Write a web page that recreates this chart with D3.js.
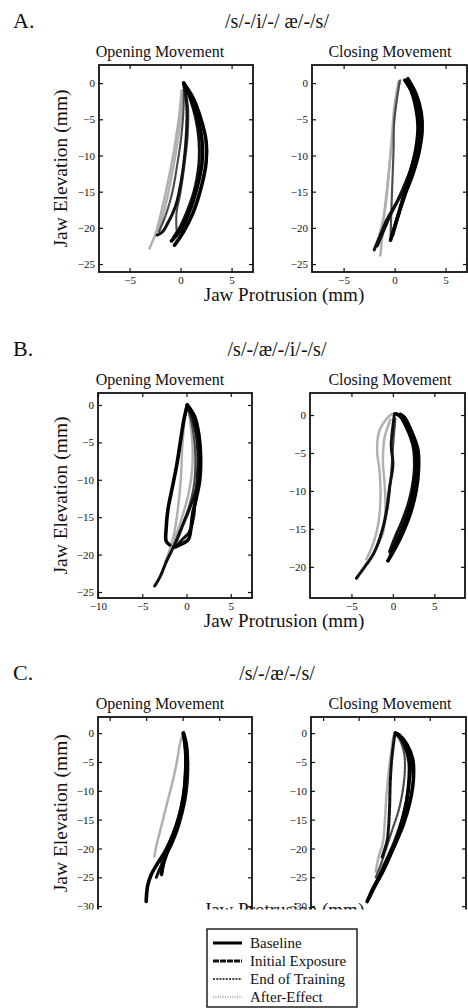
<!DOCTYPE html>
<html>
<head>
<meta charset="utf-8">
<script src="https://cdn.jsdelivr.net/npm/d3@7"></script>
<style>
  html, body { margin: 0; padding: 0; background: #fff; }
  svg { display: block; }
  text { font-family: "Liberation Serif", "Times New Roman", serif; fill: #111; }
</style>
</head>
<body>
<svg id="fig" width="468" height="1008"></svg>
<script>
// ---- text ----
const panelLetters = ['A.', 'B.', 'C.'];
const panelTitles = ['/s/-/i/-/ æ/-/s/', '/s/-/æ/-/i/-/s/', '/s/-/æ/-/s/'];
const subTitles = ['Opening Movement', 'Closing Movement'];
const conditions = ['Baseline', 'Initial Exposure', 'End of Training', 'After-Effect'];
const xLabel = 'Jaw Protrusion (mm)';
const yLabel = 'Jaw Elevation (mm)';

// ---- axis limits and ticks [row][opening/closing] ----
const xLimits = [[[-8.0, 7.1], [-8.1, 7.1]], [[-10, 7.4], [-10, 8.7]], [[-11.6, 9.5], [-11.7, 10.1]]];
const yLimits = [[[-26.1, 2.5], [-26.1, 2.5]], [[-25.8, 1.6], [-24.1, 2.9]], [[-35, 2.8], [-35, 2.8]]];
const xTickVals = [[[-5, 0, 5], [-5, 0, 5]], [[-10, -5, 0, 5], [-5, 0, 5]], [[-10, -5, 0, 5], [-10, -5, 0, 5]]];
const yTickVals = [
  [[0, -5, -10, -15, -20, -25], [0, -5, -10, -15, -20, -25]],
  [[0, -5, -10, -15, -20, -25], [0, -5, -10, -15, -20]],
  [[0, -5, -10, -15, -20, -25, -30], [0, -5, -10, -15, -20, -25, -30]]
];

// ---- trajectories (x = protrusion mm, y = elevation mm) ----
// A: /s/-/i/-/ae/-/s/
const openA_base = [
  [[0.3, 0], [1.2, -2], [2.0, -5], [2.5, -8], [2.5, -11], [2.0, -14.5], [1.2, -18], [0.3, -20.5], [-0.6, -22.4]],
  [[0.3, 0], [1.0, -2], [1.7, -5], [2.1, -8], [2.1, -11], [1.6, -14.5], [0.8, -18], [0, -20.3], [-0.9, -21.8]]
];
const openA_init = [
  [[0.3, 0], [0.9, -2], [1.5, -5], [1.8, -8], [1.8, -11], [1.4, -14.5], [0.7, -17.5], [-0.1, -20], [-0.7, -21.3]],
  [[0.3, 0], [0.6, -3], [0.6, -6], [0.4, -10], [0, -14], [-0.5, -17], [-1.2, -19.2], [-1.8, -20.6], [-2.3, -21]]
];
const openA_end = [
  [[0.3, 0], [0.7, -3], [0.7, -7], [0.4, -11], [0, -15], [-0.4, -18], [-0.4, -20.3]],
  [[0.3, 0], [0.3, -3], [0.1, -7], [-0.3, -11], [-0.8, -15], [-1.4, -18], [-2.1, -20.5]]
];
const openA_after = [
  [[0.1, -1], [-0.1, -4], [-0.5, -8], [-1.0, -12], [-1.6, -16], [-2.1, -19], [-2.5, -21], [-3.1, -23]],
  [[0.2, -1.5], [0, -5], [-0.4, -9], [-0.9, -13], [-1.5, -17], [-2.2, -20.5]]
];
const closeA_base = [
  [[-0.4, -21.7], [0.3, -18.5], [1.0, -15.5], [1.8, -12.5], [2.4, -9.5], [2.7, -6.5], [2.6, -4], [2.1, -1.5], [1.3, 0.6]],
  [[-0.2, -21], [0.4, -18], [1.0, -15], [1.6, -12], [2.1, -9], [2.3, -6], [2.1, -3.5], [1.6, -1], [1.0, 0.4]]
];
const closeA_init = [
  [[-2.0, -23], [-1.4, -21], [-0.8, -19], [0, -17], [0.8, -15], [1.6, -12], [2.2, -9], [2.4, -6], [2.2, -3], [1.6, -0.5], [1.2, 0.4]],
  [[-1.7, -22.5], [-1.1, -20.5], [-0.5, -18.5], [0.2, -16.5], [1, -14], [1.8, -11], [2.3, -8], [2.5, -5], [2.0, -2], [1.4, 0.2]]
];
const closeA_end = [
  [[-0.4, -21.5], [-0.3, -17], [-0.2, -13], [-0.1, -9], [-0.05, -5.5], [0.2, -2.5], [0.5, 0.3]]
];
const closeA_after = [
  [[-1.4, -23.8], [-1.2, -21], [-1.0, -18], [-0.7, -14], [-0.4, -10], [-0.1, -6], [0.2, -2], [0.6, 0.5]],
  [[-2.0, -23.2], [-1.4, -20.5], [-0.9, -17], [-0.6, -13], [-0.3, -8], [0, -3], [0.4, 0.3]]
];

// B: /s/-/ae/-/i/-/s/
const openB_base = [
  [[0.1, 0], [-0.3, -2], [-0.7, -5], [-1.1, -8], [-1.6, -11], [-2.1, -14], [-2.3, -16.5], [-2.3, -18.2], [-1.9, -18.7]],
  [[0.1, 0], [0.9, -1.5], [1.4, -4], [1.6, -7], [1.5, -10], [1.1, -12.5], [0.7, -14.5], [0.5, -16.5], [0.2, -18], [-0.6, -18.6], [-1.4, -19]]
];
const openB_init = [
  [[0.1, 0], [0.8, -1.5], [1.3, -4], [1.5, -7], [1.3, -10], [0.9, -12], [0.3, -14], [-0.4, -16], [-1.0, -17.8], [-1.6, -19.3], [-2.3, -21], [-3.0, -23], [-3.6, -24.2]],
  [[0.1, 0], [0.6, -1.5], [1.1, -4], [1.3, -7], [1.2, -10], [1.0, -12.5], [0.8, -15], [0.3, -17], [-0.5, -18], [-1.2, -19]]
];
const openB_end = [
  [[0, 0], [0.5, -2], [0.9, -5], [1.0, -8], [0.8, -11], [0.3, -13.5], [-0.3, -15.5], [-0.9, -17.2], [-1.5, -19], [-2.1, -20.5]]
];
const openB_after = [
  [[-0.1, -0.5], [-0.3, -3], [-0.5, -6], [-0.6, -9], [-0.8, -12], [-1.1, -15], [-1.4, -17.2], [-1.8, -19], [-2.4, -21]],
  [[0.2, -0.3], [0.5, -3], [0.7, -6], [0.6, -9], [0.2, -12], [-0.5, -15], [-1.2, -17.5], [-1.8, -19.5]]
];
const closeB_base = [
  [[-0.6, -19.2], [0.3, -17.5], [1.2, -15.5], [2.1, -13], [2.8, -10], [3.1, -7], [3.0, -4.5], [2.3, -2.3], [1.4, -0.3], [0.9, 0.1]],
  [[-0.3, -18.5], [0.5, -16.5], [1.3, -14.5], [2.1, -12], [2.6, -9], [2.8, -6.5], [2.6, -4], [1.8, -1.8], [1.0, -0.3], [0.5, 0.1]]
];
const closeB_init = [
  [[-4.4, -21.5], [-3.4, -20], [-2.3, -18.2], [-1.4, -15.6], [-0.8, -12.8], [-0.4, -9.5], [0, -6.5], [-0.2, -4], [0, -1.5], [0.2, 0.2]],
  [[-0.4, -18], [0.3, -16], [1.1, -14], [1.9, -11.5], [2.4, -9], [2.6, -6.5], [2.4, -4], [1.6, -1.6], [0.9, -0.2], [0.4, 0.2]]
];
const closeB_end = [
  [[-3.0, -19.5], [-2.0, -17.5], [-1.2, -15], [-0.6, -12], [-0.3, -9], [-0.1, -6], [0.1, -3], [0.3, -0.5]]
];
const closeB_after = [
  [[-3.2, -19], [-2.4, -17], [-1.8, -14.5], [-1.5, -11], [-1.6, -7.5], [-1.9, -4.5], [-1.6, -2], [-0.6, -0.3], [0, 0.2]],
  [[-2.0, -17.5], [-1.2, -15.5], [-0.9, -12.5], [-1.0, -9], [-1.2, -6], [-1.0, -3], [-0.3, -0.6]]
];

// C: /s/-/ae/-/s/
const openC_base = [
  [[0.1, 0], [0.5, -2], [0.6, -5], [0.4, -9], [0, -12.5], [-0.6, -15.5], [-1.4, -18.5], [-2.2, -21], [-2.7, -23], [-2.9, -24.5]],
  [[0.1, 0], [0.4, -3], [0.4, -7], [0.1, -11], [-0.5, -14.5], [-1.3, -17.5], [-2.4, -20.5], [-3.4, -22.5], [-4.3, -24.5], [-4.8, -26.5], [-5.0, -29.2]]
];
const openC_init = [
  [[0.1, 0], [0.5, -3], [0.5, -7], [0.2, -11], [-0.3, -14], [-1.0, -17], [-1.8, -19.5], [-2.6, -22], [-3.3, -24], [-3.6, -25]],
  [[0.1, 0], [0.6, -3], [0.7, -7], [0.4, -11], [-0.1, -14], [-0.8, -17], [-1.6, -19.5], [-2.4, -21.5], [-2.8, -23.8]]
];
const openC_end = [
  [[0, 0], [0.3, -3], [0.3, -7], [0, -11], [-0.6, -14.5], [-1.4, -17.5], [-2.3, -20.2], [-3.0, -22.5]]
];
const openC_after = [
  [[-0.1, -0.5], [-0.4, -2], [-0.8, -5], [-1.3, -8], [-1.9, -11], [-2.5, -14], [-3.1, -17], [-3.6, -19.5], [-3.9, -21.5]]
];
const closeC_base = [
  [[-3.8, -29.2], [-3.0, -27], [-2.0, -24.8], [-0.9, -22], [0.3, -18.8], [1.3, -15.8], [2.2, -12], [2.7, -8], [2.6, -4.5], [1.8, -2], [0.7, -0.3], [0.2, 0]],
  [[-3.5, -28.5], [-2.7, -26.5], [-1.6, -24], [-0.5, -21], [0.5, -18], [1.2, -15], [1.8, -11.5], [2.1, -8], [2.1, -5], [1.6, -2.5], [0.8, -0.6], [0.2, 0]]
];
const closeC_init = [
  [[-3.2, -27.5], [-2.3, -25.2], [-1.3, -22.5], [-0.2, -19.5], [0.7, -16.5], [1.5, -13], [2.0, -9.5], [2.3, -6], [2.2, -3.5], [1.4, -1.5], [0.6, -0.3], [0.2, 0]],
  [[-1.7, -21.5], [-1.0, -18.7], [-0.8, -16.4], [-0.65, -13], [-0.55, -8.5], [-0.35, -4.6], [0.1, 0]]
];
const closeC_end = [
  [[-2.6, -25], [-1.8, -22.5], [-1.0, -19.5], [-0.2, -16.5], [0.6, -13.5], [1.2, -10], [1.5, -6.5], [1.4, -3.5], [0.8, -1.2], [0.1, 0]]
];
const closeC_after = [
  [[-2.6, -24], [-2.2, -21.5], [-1.6, -19], [-1.3, -15], [-1.1, -11], [-0.8, -7], [-0.4, -3], [-0.1, -0.5]]
];

// ---- layout (pixels) ----
const frames = [
  [{ x: 99, y: 65, w: 154, h: 207 }, { x: 312, y: 65, w: 155, h: 207 }],
  [{ x: 98, y: 393, w: 154, h: 205 }, { x: 310, y: 393, w: 155, h: 205 }],
  [{ x: 98, y: 717, w: 154, h: 218 }, { x: 311, y: 717, w: 155, h: 218 }]
];
const xLabelBaseline = [301, 627, 916];
const CUT_Y = 909.5; // bottom of panel C is cut off in the original figure
const styles = [
  { stroke: '#000', width: 3.6, dash: null },
  { stroke: '#111', width: 3.0, dash: '6,1' },
  { stroke: '#4a4a4a', width: 2.2, dash: '2,1.2' },
  { stroke: '#b0b0b0', width: 2.6, dash: '1,1.4' }
];

const traces = [
  [[openA_base, openA_init, openA_end, openA_after], [closeA_base, closeA_init, closeA_end, closeA_after]],
  [[openB_base, openB_init, openB_end, openB_after], [closeB_base, closeB_init, closeB_end, closeB_after]],
  [[openC_base, openC_init, openC_end, openC_after], [closeC_base, closeC_init, closeC_end, closeC_after]]
];

const svg = d3.select('#fig');
svg.append('rect').attr('width', 468).attr('height', 1008).attr('fill', '#fff');
const defs = svg.append('defs');

function drawPanel(row, col) {
  const f = frames[row][col];
  const x = d3.scaleLinear().domain(xLimits[row][col]).range([f.x, f.x + f.w]);
  const y = d3.scaleLinear().domain(yLimits[row][col]).range([f.y + f.h, f.y]);
  const clipId = `clip-${row}-${col}`;
  defs.append('clipPath').attr('id', clipId)
    .append('rect').attr('x', f.x).attr('y', f.y).attr('width', f.w).attr('height', f.h);

  const g = svg.append('g');
  const plot = g.append('g').attr('clip-path', `url(#${clipId})`);
  const line = d3.line().x(d => x(d[0])).y(d => y(d[1])).curve(d3.curveCatmullRom.alpha(0.5));

  // light conditions first so the baseline sits on top
  [3, 2, 1, 0].forEach(ci => {
    const s = styles[ci];
    plot.selectAll(null)
      .data(traces[row][col][ci])
      .enter()
      .append('path')
      .attr('d', line)
      .attr('fill', 'none')
      .attr('stroke', s.stroke)
      .attr('stroke-width', s.width)
      .attr('stroke-linejoin', 'round')
      .attr('stroke-linecap', 'round')
      .attr('stroke-dasharray', s.dash);
  });

  const styleAxis = sel => {
    sel.select('.domain').remove();
    sel.selectAll('line').attr('stroke', '#111').attr('stroke-width', 1.2);
    sel.selectAll('text').attr('font-size', 11).attr('fill', '#111');
  };

  g.append('g').attr('transform', `translate(${f.x},0)`)
    .call(d3.axisLeft(y).tickValues(yTickVals[row][col]).tickSize(-4).tickPadding(4).tickFormat(d3.format('d')))
    .call(styleAxis);
  g.append('g').attr('transform', `translate(${f.x + f.w},0)`)
    .call(d3.axisRight(y).tickValues(yTickVals[row][col]).tickSize(-4).tickFormat(''))
    .call(styleAxis);
  g.append('g').attr('transform', `translate(0,${f.y + f.h})`)
    .call(d3.axisBottom(x).tickValues(xTickVals[row][col]).tickSize(-4).tickPadding(4).tickFormat(d3.format('d')))
    .call(styleAxis);
  g.append('g').attr('transform', `translate(0,${f.y})`)
    .call(d3.axisTop(x).tickValues(xTickVals[row][col]).tickSize(-4).tickFormat(''))
    .call(styleAxis);

  g.append('rect')
    .attr('x', f.x).attr('y', f.y).attr('width', f.w).attr('height', f.h)
    .attr('fill', 'none').attr('stroke', '#111').attr('stroke-width', 1.8);
}

for (let r = 0; r < 3; r++) {
  const top = frames[r][0].y;
  svg.append('text').attr('x', 13).attr('y', top - 37).attr('font-size', 22).text(panelLetters[r]);
  svg.append('text').attr('x', 277).attr('y', top - 37).attr('font-size', 20)
    .attr('text-anchor', 'middle').text(panelTitles[r]);
  svg.append('text').attr('x', 160).attr('y', top - 8).attr('font-size', 16)
    .attr('text-anchor', 'middle').text(subTitles[0]);
  svg.append('text').attr('x', 390).attr('y', top - 8).attr('font-size', 16)
    .attr('text-anchor', 'middle').text(subTitles[1]);

  drawPanel(r, 0);
  drawPanel(r, 1);

  const visBottom = r === 2 ? CUT_Y : frames[r][0].y + frames[r][0].h;
  const cy = (top + visBottom) / 2;
  svg.append('text').attr('transform', `translate(67,${cy}) rotate(-90)`)
    .attr('font-size', 19.5).attr('text-anchor', 'middle').text(yLabel);
  svg.append('text').attr('x', 284).attr('y', xLabelBaseline[r]).attr('font-size', 19)
    .attr('text-anchor', 'middle').text(xLabel);
}

// hide everything of panel C below the cut line
svg.append('rect').attr('x', 0).attr('y', CUT_Y).attr('width', 468).attr('height', 1008 - CUT_Y).attr('fill', '#fff');

// legend
const legend = svg.append('g');
legend.append('rect').attr('x', 207).attr('y', 929).attr('width', 150).attr('height', 78)
  .attr('fill', '#fff').attr('stroke', '#111').attr('stroke-width', 1.4);
const ly = d3.scalePoint().domain(conditions).range([943, 997]);
conditions.forEach((c, i) => {
  const s = styles[i];
  legend.append('line').attr('x1', 213).attr('x2', 242).attr('y1', ly(c)).attr('y2', ly(c))
    .attr('stroke', s.stroke).attr('stroke-width', Math.min(s.width, 3)).attr('stroke-dasharray', s.dash);
  legend.append('text').attr('x', 250).attr('y', ly(c) + 5).attr('font-size', 15).text(c);
});
</script>
</body>
</html>
